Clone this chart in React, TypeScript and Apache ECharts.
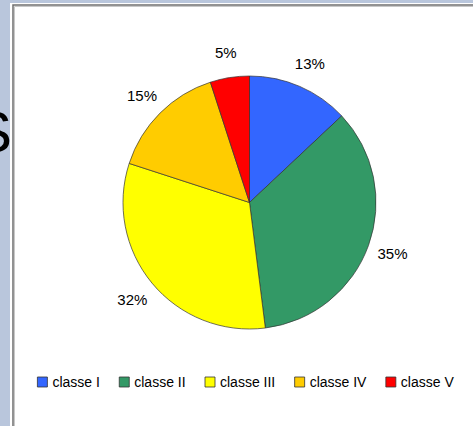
import React, { useEffect, useRef } from "react";
import * as echarts from "echarts";

const categories = ["classe I", "classe II", "classe III", "classe IV", "classe V"];
const values = [13, 35, 32, 15, 5];
const colors = ["#3366FF", "#339966", "#FFFF00", "#FFCC00", "#FF0000"];

export default function App() {
  const ref = useRef<HTMLDivElement>(null);
  useEffect(() => {
    if (!ref.current) return;
    const chart = echarts.init(ref.current, null, { renderer: "svg" });
    const font = "Arial, 'Liberation Sans', sans-serif";
    const data = categories.map((name, i) => ({ name, value: values[i] }));
    chart.setOption({
      animation: false,
      backgroundColor: "#ffffff",
      color: colors,
      legend: {
        data: categories,
        left: 32,
        top: 370,
        itemWidth: 10,
        itemHeight: 10,
        itemGap: 19,
        icon: "rect",
        textStyle: { fontFamily: font, fontSize: 14, color: "#000" },
        itemStyle: { borderColor: "#333", borderWidth: 0.8 },
      },
      graphic: [
        { type: "rect", shape: { x: 0, y: 0, width: 10, height: 426 }, style: { fill: "#b9c6dc" }, z: 1 },
        { type: "rect", shape: { x: 0, y: 0, width: 473, height: 3 }, style: { fill: "#b9c6dc" }, z: 1 },
        {
          type: "text",
          x: 12,
          y: 131,
          z: 2,
          style: {
            text: "S",
            fill: "#000",
            font: "58px Arial, 'Liberation Sans', sans-serif",
            textAlign: "right",
            textVerticalAlign: "middle",
          },
        },
        { type: "rect", shape: { x: 10, y: 3, width: 3, height: 423 }, style: { fill: "#ffffff" }, z: 3 },
        {
          type: "polyline",
          shape: { points: [[13, 426], [13, 5], [473, 5]] },
          style: { stroke: "#6f6f6f", lineWidth: 1.5, fill: "none" },
          z: 4,
        },
        {
          type: "polyline",
          shape: { points: [[14.5, 426], [14.5, 6.5], [473, 6.5]] },
          style: { stroke: "#c8c8c8", lineWidth: 1, fill: "none" },
          z: 4,
        },
      ],
      series: [
        {
          type: "pie",
          center: [249.5, 202.5],
          radius: 126.5,
          startAngle: 90,
          clockwise: true,
          avoidLabelOverlap: false,
          data,
          itemStyle: { borderColor: "#333", borderWidth: 0.7 },
          label: { show: false },
          labelLine: { show: false },
          emphasis: { disabled: true },
        },
        {
          type: "pie",
          center: [249.5, 202.5],
          radius: [139, 159],
          startAngle: 90,
          clockwise: true,
          avoidLabelOverlap: false,
          silent: true,
          legendHoverLink: false,
          data,
          itemStyle: { color: "rgba(0,0,0,0)", borderWidth: 0 },
          label: {
            show: true,
            position: "inside",
            formatter: "{c}%",
            fontFamily: font,
            fontSize: 15,
            color: "#000",
          },
          labelLine: { show: false },
          emphasis: { disabled: true },
        },
      ],
    });
    return () => chart.dispose();
  }, []);
  return (
    <div
      ref={ref}
      style={{ position: "absolute", left: 0, top: 0, width: 473, height: 426 }}
    />
  );
}
